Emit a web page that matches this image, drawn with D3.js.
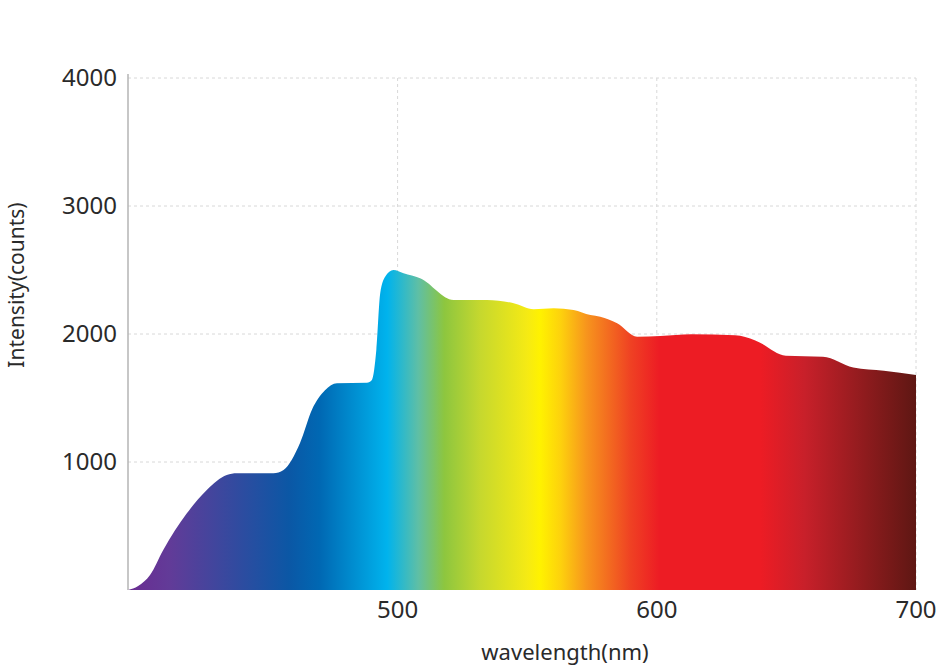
<!DOCTYPE html>
<html>
<head>
<meta charset="utf-8">
<script src="https://cdn.jsdelivr.net/npm/d3@7"></script>
<style>
body{margin:0;background:#fff;}
text{font-family:"Noto Sans",sans-serif;fill:#2a2a2a;}
</style>
</head>
<body>
<script>
// spectrum
const wavelength=[396,399.9,404.5,409.6,418.7,426.4,434.1,438,452.1,456,462.4,467,472,476.6,488.2,490.1,491.8,493.3,495.2,498.4,502.3,508.7,521.6,534.5,544.8,552.5,560.2,567.9,574.4,578.2,584.7,592.4,601.4,613.3,630.2,638,649.8,664.1,675.8,687.6,700];
const intensity=[0,31,117,313,599,781,898,912,912,938,1150,1410,1560,1615,1620,1641,1875,2318,2448,2500,2474,2435,2266,2266,2240,2193,2201,2188,2148,2135,2084,1979,1984,1998,1990,1950,1831,1823,1739,1713,1680];
const yTicks=[1000,2000,3000,4000];
const xTicks=[500,600,700];
// colour bands of the fill
const stopNm=[396,412,458,470,496,508,518,532,550,555,563,573,590,601,640,657,700];
const stopColor=["#6a2c91","#623b98","#0b57a5","#0068b3","#00b3ed","#5fbfa5","#8dc63f","#c6d82e","#f5ea14","#fff200","#fdd10d","#f7941d","#ef4123","#ed1c24","#ed1c24","#c8202a","#5e1713"];

const W=940,H=666;
const m={left:128,right:24,top:78,bottom:76};
const svg=d3.select("body").append("svg").attr("width",W).attr("height",H);

const x=d3.scaleLinear().domain([396,700]).range([m.left,W-m.right]);
const y=d3.scaleLinear().domain([0,4000]).range([H-m.bottom,m.top]);

// grid
svg.append("g").selectAll("line").data(yTicks).join("line")
  .attr("x1",m.left).attr("x2",W-m.right)
  .attr("y1",d=>y(d)).attr("y2",d=>y(d))
  .attr("stroke","#d8d8d8").attr("stroke-dasharray","3,3");
svg.append("g").selectAll("line").data(xTicks).join("line")
  .attr("x1",d=>x(d)).attr("x2",d=>x(d))
  .attr("y1",m.top).attr("y2",H-m.bottom)
  .attr("stroke","#d8d8d8").attr("stroke-dasharray","3,3");

const grad=svg.append("defs").append("linearGradient")
  .attr("id","spec").attr("gradientUnits","userSpaceOnUse")
  .attr("x1",x(396)).attr("x2",x(700)).attr("y1",0).attr("y2",0);
grad.selectAll("stop").data(stopNm).join("stop")
  .attr("offset",d=>(x(d)-x(396))/(x(700)-x(396)))
  .attr("stop-color",(d,i)=>stopColor[i]);

const data=wavelength.map((w,i)=>[w,intensity[i]]);
const area=d3.area().x(d=>x(d[0])).y0(y(0)).y1(d=>y(d[1])).curve(d3.curveMonotoneX);
svg.append("path").datum(data).attr("d",area).attr("fill","url(#spec)");

// y axis line
svg.append("line").attr("x1",m.left).attr("x2",m.left)
  .attr("y1",m.top-4).attr("y2",H-m.bottom)
  .attr("stroke","#b5b5b5").attr("stroke-width",1.5);

svg.append("g").selectAll("text").data(yTicks).join("text")
  .attr("x",m.left-11).attr("y",d=>y(d)).attr("dy","0.35em")
  .attr("text-anchor","end").style("font-size","24px").text(d=>d);
svg.append("g").selectAll("text").data(xTicks).join("text")
  .attr("x",d=>x(d)).attr("y",H-m.bottom+28)
  .attr("text-anchor","middle").style("font-size","24px").text(d=>d);

svg.append("text").attr("x",565).attr("y",660).attr("text-anchor","middle")
  .style("font-size","22px").text("wavelength(nm)");
svg.append("text").attr("transform","translate(24,285) rotate(-90)")
  .attr("text-anchor","middle").style("font-size","21px").text("Intensity(counts)");
</script>
</body>
</html>
